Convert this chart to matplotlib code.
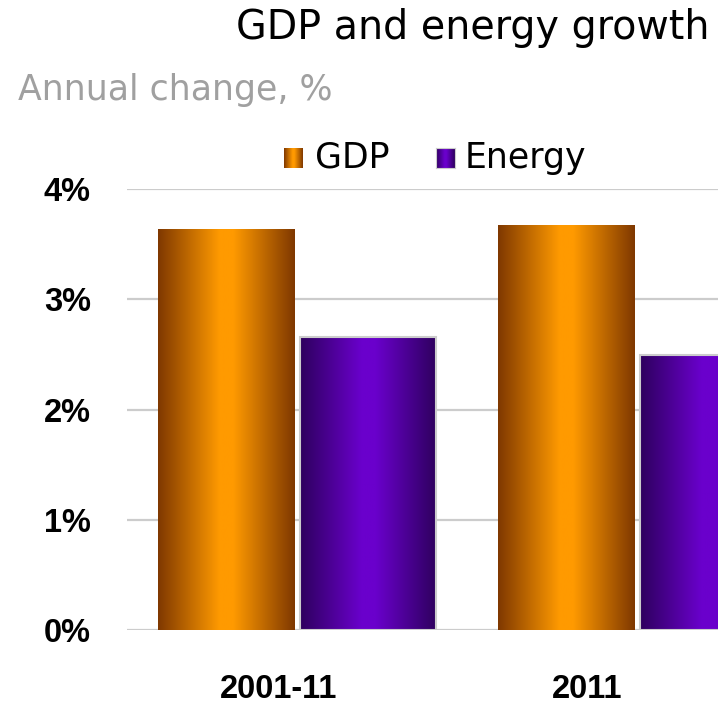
import numpy as np
import matplotlib
matplotlib.use("Agg")
import matplotlib.pyplot as plt
from matplotlib.colors import LinearSegmentedColormap

# annual change, %
categories = ["2001-11", "2011"]
gdp = [3.64, 3.67]
energy = [2.66, 2.49]
series_names = ["GDP", "Energy"]

plt.rcParams['font.family'] = ['DejaVu Sans']

gdp_cmap = LinearSegmentedColormap.from_list(
    "gdp", [(0, "#7f3800"), (0.45, "#ff9a00"), (0.55, "#ff9a00"), (1, "#7f3800")])
energy_cmap = LinearSegmentedColormap.from_list(
    "energy", [(0, "#2e005e"), (0.45, "#6a00cc"), (0.55, "#6a00cc"), (1, "#2e005e")])
grad = np.linspace(0, 1, 256).reshape(1, -1)


def gradient_bars(ax, x, heights, width, cmap, edge):
    bars = ax.bar(x, heights, width, color="none", edgecolor=edge,
                  linewidth=1.5 if edge != "none" else 0, zorder=3)
    for b in bars:
        x0, w, h = b.get_x(), b.get_width(), b.get_height()
        im = ax.imshow(grad, cmap=cmap, aspect="auto",
                       extent=(x0, x0 + w, 0, h), zorder=2)
        im.set_clip_path(b)
    return bars


fig = plt.figure(figsize=(7.18, 7.07), dpi=100)
ax = fig.add_axes([127 / 718, 1 - 630 / 707, 1 - 127 / 718, (630 - 189) / 707])

x = np.arange(len(categories))
w = 0.4
gradient_bars(ax, x - 0.21, gdp, w, gdp_cmap, "none")
gradient_bars(ax, x + 0.21, energy, w, energy_cmap, "#cccccc")

tick_font = dict(family="Liberation Sans", size=23.5, weight="bold")
ax.set_xlim(-0.5, 1.238)
ax.set_ylim(0, 4)
ax.set_yticks(range(5))
ax.set_yticklabels([f"{v}%" for v in range(5)], fontdict=tick_font)
ax.yaxis.grid(True, color="#cccccc", linewidth=1.6, zorder=0)
ax.set_axisbelow(True)
ax.tick_params(axis="y", length=0, pad=26)
ax.tick_params(axis="x", length=0, pad=32)
ax.set_xticks(x + np.array([-0.053, -0.147]))
ax.set_xticklabels(categories, fontdict=tick_font)
for s in ax.spines.values():
    s.set_visible(False)

fig.text(710 / 718, 1 - 39 / 707, "GDP and energy growth", ha="right",
         va="baseline", fontsize=28.5)
fig.text(18 / 718, 1 - 100 / 707, "Annual change, %", ha="left",
         va="baseline", fontsize=25, color="#a0a0a0")

# legend with gradient swatches
for name, cmap, sx, tx, edge in [("GDP", gdp_cmap, 284, 315, None),
                                 ("Energy", energy_cmap, 436, 465, "#cccccc")]:
    sw = fig.add_axes([sx / 718, 1 - 168 / 707, 19 / 718, 20 / 707])
    sw.imshow(grad, cmap=cmap, aspect="auto")
    sw.set_xticks([])
    sw.set_yticks([])
    for s in sw.spines.values():
        s.set_visible(edge is not None)
        s.set_color(edge or "none")
    fig.text(tx / 718, 1 - 168 / 707, name, ha="left", va="baseline", fontsize=25)

fig.savefig("out.png", dpi=100)
